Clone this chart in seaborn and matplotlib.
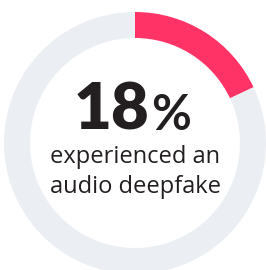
import matplotlib
matplotlib.use('Agg')
import matplotlib.pyplot as plt
import seaborn as sns

# данні
labels = ['experienced', 'not experienced']
shares = [18, 82]
colors = ['#FF3366', '#EBEEF3']
big_value = '18'
caption = ['experienced an', 'audio deepfake']

sns.set_theme(style='white')
plt.rcParams['font.family'] = ['Lato', 'DejaVu Sans']

W, H = 266, 270
fig = plt.figure(figsize=(W / 100, H / 100), dpi=100)
ax = fig.add_axes([0, 0, 1, 1])

# кільце
ax.pie(shares, colors=colors, startangle=90, counterclock=False,
       radius=131, center=(135, 127), frame=True,
       wedgeprops=dict(width=26, linewidth=0))
ax.set_xlim(0, W)
ax.set_ylim(0, H)
ax.set_aspect('equal')
ax.axis('off')

# текст у центрі
dark = '#231F20'
ax.text(149, 140, big_value, ha='right', va='baseline', fontsize=47,
        fontweight='heavy', color=dark)
ax.text(151, 140, '%', ha='left', va='baseline', fontsize=35,
        fontweight='bold', color=dark)
for i, line in enumerate(caption):
    ax.text(135, 107 - 30 * i, line, ha='center', va='baseline',
            fontsize=17, color=dark, family=['Open Sans', 'DejaVu Sans'])

fig.savefig('out.png', dpi=100, facecolor='white')
